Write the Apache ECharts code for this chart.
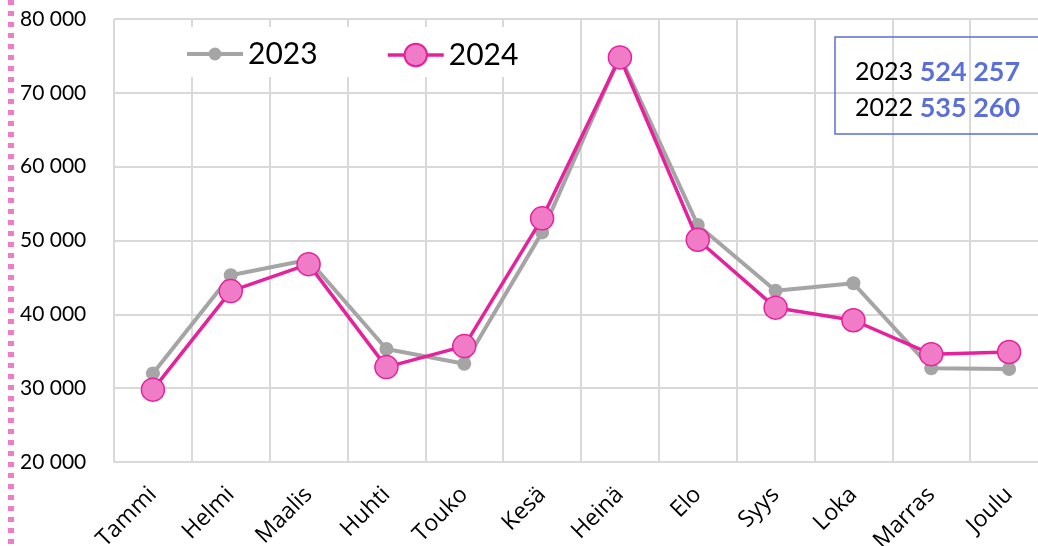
<!DOCTYPE html>
<html>
<head>
<meta charset="utf-8">
<script src="https://cdn.jsdelivr.net/npm/echarts@6/dist/echarts.min.js"></script>
<style>html,body{margin:0;padding:0;background:#fff}#c{width:1038px;height:546px}</style>
</head>
<body>
<div id="c"></div>
<script>
const categories = ['Tammi','Helmi','Maalis','Huhti','Touko','Kesä','Heinä','Elo','Syys','Loka','Marras','Joulu'];
const values2023 = [32000, 45300, 47400, 35300, 33300, 51100, 75000, 52100, 43200, 44200, 32700, 32600];
const values2024 = [29800, 43150, 46800, 32850, 35700, 53000, 74800, 50100, 40900, 39200, 34600, 34900];
const seriesNames = ['2023', '2024'];
const totalYears = ['2023', '2022'];
const totalValues = ['524 257', '535 260'];
const yMin = 20000, yMax = 80000, yStep = 10000;

const fmt = v => String(v).replace(/\B(?=(\d{3})+(?!\d))/g, ' ');

const chart = echarts.init(document.getElementById('c'));
const gray = '#a5a5a5', pinkLine = '#e6219c', pinkFill = '#f07cc8', blue = '#5a6fd8';

chart.setOption({
  animation: false,
  backgroundColor: '#fff',
  grid: { left: 114, right: -10, top: 19, bottom: 84, outerBoundsMode: 'none', containLabel: false },
  xAxis: {
    type: 'category',
    data: categories,
    boundaryGap: true,
    axisLine: { show: true, lineStyle: { color: '#d9d9d9', width: 2 } },
    axisTick: { show: false },
    splitLine: { show: true, interval: 0, lineStyle: { color: '#d9d9d9', width: 2 } },
    axisLabel: { interval: 0, rotate: 45, margin: 29, color: '#000', fontFamily: 'Open Sans', fontSize: 23 }
  },
  yAxis: {
    type: 'value',
    min: yMin, max: yMax, interval: yStep,
    axisLine: { show: false },
    axisTick: { show: false },
    splitLine: { lineStyle: { color: '#d9d9d9', width: 2 } },
    axisLabel: { align: 'left', margin: 94, color: '#000', fontFamily: 'Lato', fontSize: 21, formatter: fmt }
  },
  legend: [
    {
      data: [seriesNames[0]], left: 185, top: 39, padding: 0, itemWidth: 56, itemHeight: 16, itemGap: 0,
      lineStyle: { width: 4, color: gray },
      textStyle: { fontFamily: 'Lato', fontSize: 30, color: '#000', padding: [0, 0, 0, 0] }, z: 5
    },
    {
      data: [seriesNames[1]], left: 386, top: 40, padding: 0, itemWidth: 56, itemHeight: 28, itemGap: 0,
      lineStyle: { width: 3.5, color: pinkLine },
      textStyle: { fontFamily: 'Lato', fontSize: 30, color: '#000' }, z: 5
    }
  ],
  graphic: [
    { type: 'rect', z: 3, shape: { x: 175, y: 27, width: 370, height: 50 }, style: { fill: '#fff' } },
    { type: 'line', z: 10, shape: { x1: 11, y1: 0, x2: 11, y2: 546 }, style: { stroke: pinkFill, lineWidth: 6, lineDash: [5, 6] } },
    { type: 'rect', z: 10, shape: { x: 835, y: 37, width: 230, height: 97 }, style: { fill: 'transparent', stroke: blue, lineWidth: 1.5 } },
    {
      type: 'text', z: 10, x: 855, y: 72,
      style: {
        text: '{a|' + totalYears[0] + '}  {b|' + totalValues[0] + '}', verticalAlign: 'middle',
        rich: { a: { fontFamily: 'Lato', fontSize: 25, fill: '#000' }, b: { fontFamily: 'Lato', fontSize: 27, fontWeight: 'bold', fill: blue } }
      }
    },
    {
      type: 'text', z: 10, x: 855, y: 108,
      style: {
        text: '{a|' + totalYears[1] + '}  {b|' + totalValues[1] + '}', verticalAlign: 'middle',
        rich: { a: { fontFamily: 'Lato', fontSize: 25, fill: '#000' }, b: { fontFamily: 'Lato', fontSize: 27, fontWeight: 'bold', fill: blue } }
      }
    }
  ],
  series: [
    {
      name: seriesNames[0], type: 'line', data: values2023, z: 2,
      symbol: 'circle', symbolSize: 14, showAllSymbol: true,
      lineStyle: { color: gray, width: 4 },
      itemStyle: { color: gray, borderWidth: 0 }
    },
    {
      name: seriesNames[1], type: 'line', data: values2024, z: 3,
      symbol: 'circle', symbolSize: 23, showAllSymbol: true,
      lineStyle: { color: pinkLine, width: 3.5 },
      itemStyle: { color: pinkFill, borderColor: pinkLine, borderWidth: 1.5 }
    }
  ]
});
</script>
</body>
</html>
